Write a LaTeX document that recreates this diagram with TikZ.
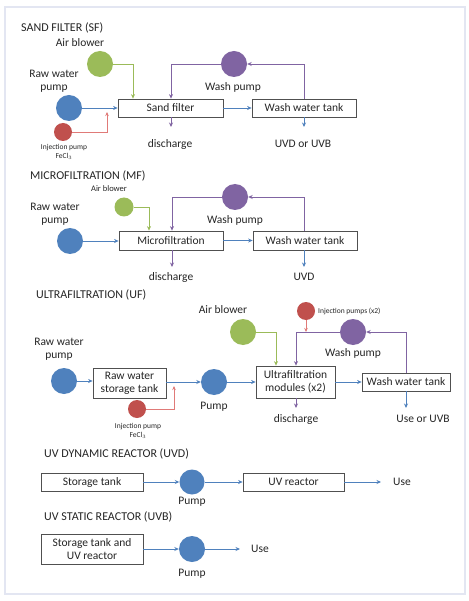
\documentclass[tikz,border=0pt]{standalone}
\usepackage{fontspec}
\setmainfont{Carlito}
\usetikzlibrary{arrows.meta}
\definecolor{cblue}{HTML}{4F81BD}
\definecolor{cgreen}{HTML}{9BBB59}
\definecolor{cred}{HTML}{C0504D}
\definecolor{cpurple}{HTML}{8064A2}
\definecolor{lred}{HTML}{E07A78}
\definecolor{framec}{HTML}{E3E6F2}
\definecolor{boxc}{HTML}{505050}
\definecolor{txt}{HTML}{262626}
\tikzset{
  box/.style={draw=boxc, line width=0.7pt, fill=white, align=center, inner sep=1pt,
    font=\fontsize{11.5}{13}\selectfont, text=txt},
  circ/.style={circle, inner sep=0pt, minimum size=26pt},
  pumpb/.style={circ, fill=cblue},
  blower/.style={circ, fill=cgreen},
  washp/.style={circ, fill=cpurple},
  injp/.style={circle, inner sep=0pt, minimum size=18pt, fill=cred},
  lbl/.style={inner sep=1pt, align=center, font=\fontsize{11.5}{13}\selectfont, text=txt},
  small/.style={inner sep=1pt, align=center, font=\fontsize{7.5}{9}\selectfont, text=txt},
  ttl/.style={inner sep=0pt, anchor=west, font=\fontsize{12}{14}\selectfont, text=txt},
  arr/.style={line width=0.9pt, -{Stealth[length=4.5pt,width=4pt]}},
  barr/.style={arr, draw=cblue},
  garr/.style={arr, draw=cgreen},
  parr/.style={arr, draw=cpurple},
  rarr/.style={line width=0.6pt, draw=lred, -{Stealth[length=4pt,width=3.5pt]}},
}
\begin{document}
\begin{tikzpicture}[x=1pt,y=-1pt]
\useasboundingbox (0,0) rectangle (468,601);
\fill[white] (0,0) rectangle (468,601);
\draw[framec, line width=2pt] (5,7) rectangle (465,594);

% ---------------- SAND FILTER ----------------
\node[ttl] (t1) at (21,28) {SAND FILTER (SF)};
\node[box, minimum width=105pt, minimum height=18pt] (sf) at (170.5,108) {Sand filter};
\node[box, minimum width=104pt, minimum height=18pt] (wt1) at (304,108) {Wash water tank};
\node[pumpb] (rw1) at (69,108) {};
\node[lbl] (rw1l) at (54,81) {Raw water\\pump};
\node[injp] (inj1) at (63,132) {};
\node[small] (inj1l) at (64,152) {Injection pump\\FeCl$_3$};
\node[blower] (ab1) at (100,64) {};
\node[lbl] (ab1l) at (80,43) {Air blower};
\node[washp] (wp1) at (234,64) {};
\node[lbl] (wp1l) at (233,87) {Wash pump};
\node[lbl] (d1) at (170,144) {discharge};
\node[lbl] (u1) at (303,144) {UVD or UVB};
\coordinate (r1) at (107,112);
\coordinate (d1a) at (171,127);
\coordinate (u1a) at (304,127);
\draw[barr] (rw1.east) -- (sf.west);
\draw[rarr] (inj1.east) -| (r1);
\draw[garr] (ab1.east) -| ([xshift=-37.5pt]sf.north);
\draw[parr] (wp1.west) -| ([xshift=0.5pt]sf.north);
\draw[parr] (wt1.north) |- (wp1.east);
\draw[barr] (sf.east) -- (wt1.west);
\draw[parr] ([xshift=0.5pt]sf.south) -- (d1a);
\draw[barr] (wt1.south) -- (u1a);

% ---------------- MICROFILTRATION ----------------
\node[ttl] (t2) at (30,176) {MICROFILTRATION (MF)};
\node[box, minimum width=104pt, minimum height=19pt] (mf) at (171,240.5) {Microfiltration};
\node[box, minimum width=104pt, minimum height=19pt] (wt2) at (305,240.5) {Wash water tank};
\node[pumpb] (rw2) at (70,241) {};
\node[lbl] (rw2l) at (55,214) {Raw water\\pump};
\node[blower, minimum size=19pt] (ab2) at (124,207) {};
\node[small, font=\fontsize{8.5}{10}\selectfont] (ab2l) at (109,189) {Air blower};
\node[washp] (wp2) at (235,197) {};
\node[lbl] (wp2l) at (235,220) {Wash pump};
\node[lbl] (d2) at (171,277) {discharge};
\node[lbl] (u2) at (304,277) {UVD};
\coordinate (d2a) at (172,267);
\coordinate (u2a) at (304,267);
\draw[barr] (rw2.east) -- (mf.west |- rw2.east);
\draw[garr] (ab2.east) -| ([xshift=-22pt]mf.north);
\draw[parr] (wp2.west) -| ([xshift=1pt]mf.north);
\draw[parr] ([xshift=-1pt]wt2.north) |- (wp2.east);
\draw[barr] (mf.east) -- (wt2.west);
\draw[parr] ([xshift=1pt]mf.south) -- (d2a);
\draw[barr] ([xshift=-1pt]wt2.south) -- (u2a);

% ---------------- ULTRAFILTRATION ----------------
\node[ttl] (t3) at (36,295) {ULTRAFILTRATION (UF)};
\node[pumpb] (rw3) at (64,381) {};
\node[lbl] (rw3l) at (59,349) {Raw water\\pump};
\node[box, minimum width=73pt, minimum height=30pt] (rst) at (129.5,383) {Raw water\\storage tank};
\node[injp] (inj3) at (137,409) {};
\node[small] (inj3l) at (138,431) {Injection pump\\FeCl$_3$};
\node[pumpb] (pu3) at (214,382) {};
\node[lbl] (pu3l) at (214,407) {Pump};
\node[box, minimum width=79pt, minimum height=32pt] (uf) at (295.5,382) {Ultrafiltration\\modules (x2)};
\node[box, minimum width=88pt, minimum height=18pt] (wt3) at (406,382) {Wash water tank};
\node[blower] (ab3) at (243,332) {};
\node[lbl] (ab3l) at (223,310) {Air blower};
\node[injp] (inj3b) at (306,311) {};
\node[small, anchor=west] (inj3bl) at (317,311) {Injection pumps (x2)};
\node[washp] (wp3) at (353,332) {};
\node[lbl] (wp3l) at (353,353) {Wash pump};
\node[lbl] (d3) at (296,419) {discharge};
\node[lbl] (u3) at (423,419) {Use or UVB};
\coordinate (r3) at (174,386);
\coordinate (d3a) at (296,408);
\coordinate (u3a) at (406,408);
\draw[barr] (rw3.east) -- (rst.west |- rw3.east);
\draw[barr] (rst.east |- pu3.west) -- (pu3.west);
\draw[rarr] (inj3.east) -| (r3);
\draw[barr] (pu3.east) -- (uf.west |- pu3.east);
\draw[barr] (uf.east |- wt3.west) -- (wt3.west);
\draw[garr] (ab3.east) -| ([xshift=-19.5pt]uf.north);
\draw[parr] (wp3.west) -| ([xshift=0.5pt]uf.north);
\draw[parr] (wt3.north) |- (wp3.east);
\draw[rarr] (inj3b.south) -- (inj3b.south |- wp3.west);
\draw[parr] ([xshift=0.5pt]uf.south) -- (d3a);
\draw[barr] (wt3.south) -- (u3a);

% ---------------- UV DYNAMIC ----------------
\node[ttl] (t4) at (44,454) {UV DYNAMIC REACTOR (UVD)};
\node[box, minimum width=102pt, minimum height=18pt] (st4) at (92,482) {Storage tank};
\node[pumpb, minimum size=25pt] (pu4) at (192,482) {};
\node[lbl] (pu4l) at (192,501.5) {Pump};
\node[box, minimum width=101pt, minimum height=18pt] (uvr) at (293.5,482) {UV reactor};
\node[lbl] (use4) at (402,482) {Use};
\coordinate (use4a) at (381,482);
\draw[barr] (st4.east) -- (pu4.west);
\draw[barr] (pu4.east) -- (uvr.west);
\draw[barr] (uvr.east) -- (use4a);

% ---------------- UV STATIC ----------------
\node[ttl] (t5) at (44,517) {UV STATIC REACTOR (UVB)};
\node[box, minimum width=102pt, minimum height=30pt] (st5) at (92,549) {Storage tank and\\UV reactor};
\node[pumpb] (pu5) at (192,549) {};
\node[lbl] (pu5l) at (192,574) {Pump};
\node[lbl] (use5) at (260,549) {Use};
\coordinate (use5a) at (240,549);
\draw[barr] (st5.east) -- (pu5.west);
\draw[barr] (pu5.east) -- (use5a);
\end{tikzpicture}
\end{document}
